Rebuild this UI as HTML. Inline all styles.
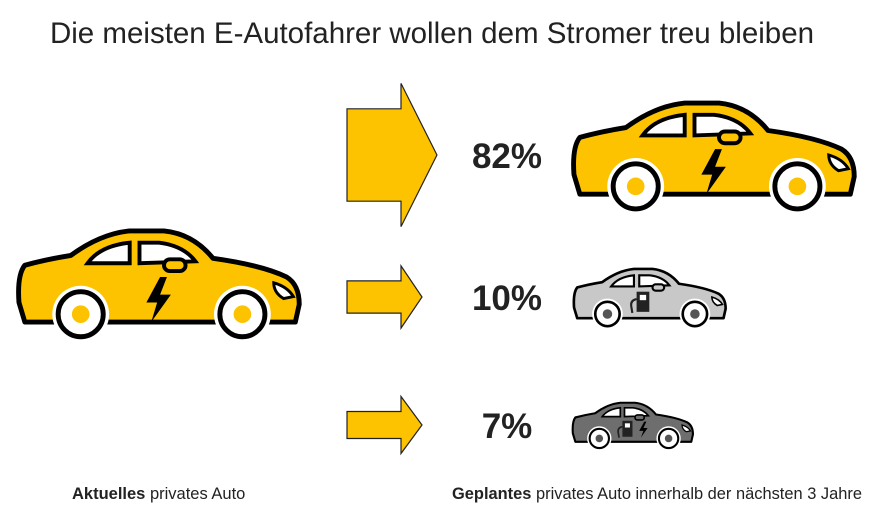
<!DOCTYPE html>
<html><head><meta charset="utf-8"><style>
body{margin:0;background:#fff;width:882px;height:519px;overflow:hidden;font-family:"Liberation Sans",sans-serif;}
svg{display:block}
</style></head><body>
<svg width="882" height="519" viewBox="0 0 882 519">
<defs>
<g id="car-body">
<path d="M8,98 L2,78 Q0,50 8,40 Q30,34 55,30 Q85,8 115,5 L150,5 Q180,8 200,33 Q250,40 275,52 Q288,60 288,80 L284,98 Z" stroke="#000" stroke-width="5" stroke-linejoin="round"/>
<path d="M72,38 Q85,20 115,17 L115,38 Z" fill="#fff" stroke="#000" stroke-width="4"/>
<path d="M125,17 L145,17 Q170,20 182,36 L125,38 Z" fill="#fff" stroke="#000" stroke-width="4"/>
<rect x="150" y="34" width="22" height="12" rx="6" stroke="#000" stroke-width="4"/>
<path d="M262,58 Q276,62 282,72 L272,74 Q262,68 262,58 Z" fill="#fff" stroke="#000" stroke-width="3"/>
<circle cx="65" cy="90" r="29" fill="#fff"/>
<circle cx="230" cy="90" r="29" fill="#fff"/>
<circle cx="65" cy="90" r="23" fill="#fff" stroke="#000" stroke-width="5"/>
<circle cx="230" cy="90" r="23" fill="#fff" stroke="#000" stroke-width="5"/>
</g>
</defs>
<text x="432" y="43" text-anchor="middle" font-size="29.5" fill="#222">Die meisten E-Autofahrer wollen dem Stromer treu bleiben</text>
<g id="left-car" transform="translate(17,226) scale(0.98)" fill="#fdc300">
<use href="#car-body"/>
<circle cx="65" cy="90" r="9" fill="#fdc300"/><circle cx="230" cy="90" r="9" fill="#fdc300"/>
<path d="M146,52 L132,78 L143,78 L137,98 L157,70 L146,70 L153,52 Z" fill="#000"/>
</g>
<g id="marks"></g>
<text x="72" y="499" font-size="16.5" fill="#222"><tspan font-weight="bold">Aktuelles</tspan> privates Auto</text>
<text x="452" y="499" font-size="16.5" fill="#222" textLength="410" lengthAdjust="spacingAndGlyphs"><tspan font-weight="bold">Geplantes</tspan> privates Auto innerhalb der nächsten 3 Jahre</text>
</svg>
<script>
const categories=["E-Auto","Verbrenner","Hybrid"];
const values=[82,10,7];
const carColors=["#fdc300","#c8c8c8","#6e6e6e"];
const rowY=[155,297,425];
const carScale=[0.98,0.53,0.42];
const carX=[572,573,572];
const ns="http://www.w3.org/2000/svg";
const g=document.getElementById("marks");
function sz(v){return Math.sqrt(v)*10.2;}
values.forEach((v,i)=>{
  const cy=rowY[i],h=sz(v),hh=Math.max(h*1.55,h+30);
  const tipX=400+Math.max(22,h*0.4);
  const p=document.createElementNS(ns,"path");
  
  
  p.setAttribute("d",`M347,${cy-h/2} L401,${cy-h/2} L401,${cy-hh/2} L${tipX},${cy} L401,${cy+hh/2} L401,${cy+h/2} L347,${cy+h/2} Z`);
  p.setAttribute("fill","#fdc300");p.setAttribute("stroke","#222");p.setAttribute("stroke-width","1.2");
  g.appendChild(p);
  const t=document.createElementNS(ns,"text");
  
  
  t.setAttribute("x",507);t.setAttribute("y",cy+13);t.setAttribute("text-anchor","middle");
  t.setAttribute("font-size","35");t.setAttribute("font-weight","bold");t.setAttribute("fill","#222");
  t.textContent=v+"%";g.appendChild(t);
  const s=carScale[i];
  const c=document.createElementNS(ns,"g");
  
  
  c.setAttribute("transform",`translate(${carX[i]},${cy-58*s}) scale(${s})`);
  c.setAttribute("fill",carColors[i]);
  let inner=`<use href="#car-body"/><circle cx="65" cy="90" r="9" fill="${i==0?carColors[0]:'#555'}"/><circle cx="230" cy="90" r="9" fill="${i==0?carColors[0]:'#555'}"/>`;
  if(i==0) inner+=`<path d="M146,52 L132,78 L143,78 L137,98 L157,70 L146,70 L153,52 Z" fill="#000"/>`;
  else{inner+=`<rect x="120" y="48" width="24" height="38" fill="#222"/><rect x="126" y="54" width="12" height="10" fill="#fff"/><path d="M120,62 Q108,64 110,76 L112,88" fill="none" stroke="#222" stroke-width="4"/>`;
    if(i==2) inner+=`<path d="M172,50 L160,72 L170,72 L164,88 L180,65 L170,65 L177,50 Z" fill="#000"/>`;}
  c.innerHTML=inner;g.appendChild(c);
});
</script>
</body></html>
